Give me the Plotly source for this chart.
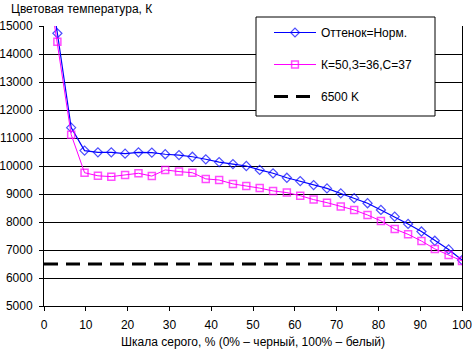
import plotly.graph_objects as go

x_vals = [0, 3.2, 6.5, 9.7, 12.9, 16.1, 19.4, 22.6, 25.8, 29.0, 32.3, 35.5, 38.7, 41.9,
          45.2, 48.4, 51.6, 54.8, 58.1, 61.3, 64.5, 67.7, 71.0, 74.2, 77.4, 80.6,
          83.9, 87.1, 90.3, 93.5, 96.8, 100]
norm_vals = [17800, 14740, 11370, 10550, 10490, 10490, 10440, 10490, 10480, 10420, 10390,
             10330, 10240, 10140, 10070, 10000, 9860, 9740, 9580, 9460, 9320, 9200,
             9020, 8850, 8670, 8430, 8190, 7930, 7660, 7330, 7020, 6640]
kzc_vals = [17500, 14440, 11120, 9760, 9650, 9620, 9680, 9740, 9640, 9860, 9800, 9760,
            9540, 9500, 9360, 9290, 9210, 9110, 9050, 8940, 8800, 8690, 8550, 8430,
            8250, 8040, 7750, 7560, 7320, 7040, 6820, 6610]
ref_x = [0, 100]
ref_y = [6500, 6500]
names = ["Оттенок=Норм.", "К=50,З=36,С=37", "6500 K"]
x_ticks = list(range(0, 101, 10))
y_ticks = list(range(5000, 15001, 1000))

FONT = "Liberation Sans, Arial, sans-serif"

fig = go.Figure()
fig.add_trace(go.Scatter(
    x=x_vals, y=norm_vals, name=names[0], mode="lines+markers",
    line=dict(color="#0000FF", width=1.2),
    marker=dict(symbol="diamond-open", size=[0] + [7] * (len(x_vals) - 1),
                color="#0000FF", line=dict(width=1.2, color="#0000FF")),
    legendgroup="a",
))
fig.add_trace(go.Scatter(
    x=x_vals, y=kzc_vals, name=names[1], mode="lines+markers",
    line=dict(color="#FF00FF", width=1),
    marker=dict(symbol="square-open", size=[0] + [7] * (len(x_vals) - 1),
                color="#FF00FF", line=dict(width=1.5, color="#FF00FF")),
    legendgroup="b",
))
fig.add_trace(go.Scatter(
    x=ref_x, y=ref_y, name=names[2], mode="lines",
    line=dict(color="#000000", width=3, dash="14px,8px"),
    legendgroup="c",
))

PW, PH, L, T = 418, 280, 44, 26
def px_x(p):
    return (p - L) / PW
def px_y(p):
    return 1 - (p - T) / PH

fig.update_layout(
    width=472, height=349,
    margin=dict(l=L, r=10, t=T, b=43, autoexpand=False),
    paper_bgcolor="white", plot_bgcolor="white",
    font=dict(family=FONT, size=12, color="black"),
    showlegend=True,
    legend=dict(
        x=px_x(269), y=px_y(18), xanchor="left", yanchor="top",
        bgcolor="rgba(0,0,0,0)", borderwidth=0,
        font=dict(family=FONT, size=12, color="black"),
        tracegroupgap=13, traceorder="grouped", itemwidth=42,
    ),
    shapes=[
        dict(type="rect", xref="paper", yref="paper", layer="above",
             x0=px_x(256), x1=px_x(435), y0=px_y(116), y1=px_y(17),
             fillcolor="white", line=dict(color="black", width=1)),
    ],
    annotations=[
        dict(text="Цветовая температура, К", xref="paper", yref="paper",
             x=0, y=1, xanchor="left", yanchor="bottom", xshift=-35, yshift=8,
             showarrow=False, font=dict(family=FONT, size=12, color="black")),
    ],
)
fig.update_xaxes(
    range=[0, 100], tickvals=x_ticks, ticktext=[str(v) for v in x_ticks],
    ticks="outside", ticklen=4, tickcolor="black", ticklabelstandoff=4,
    ticklabeloverflow="allow", automargin=False,
    showline=True, linecolor="black", linewidth=1, showgrid=False, zeroline=False,
    title=dict(text="Шкала серого, % (0% – черный, 100% – белый)", standoff=6,
               font=dict(family=FONT, size=12, color="black")),
    tickfont=dict(family=FONT, size=12, color="black"),
)
fig.update_yaxes(
    range=[5000, 15000], tickvals=y_ticks, ticktext=[str(v) for v in y_ticks],
    ticks="outside", ticklen=4, tickcolor="black", ticklabelstandoff=4,
    automargin=False,
    showline=True, linecolor="black", linewidth=1, mirror=True,
    showgrid=True, gridcolor="black", gridwidth=1, zeroline=False,
    tickfont=dict(family=FONT, size=12, color="black"),
)

fig.write_html("out.html")
